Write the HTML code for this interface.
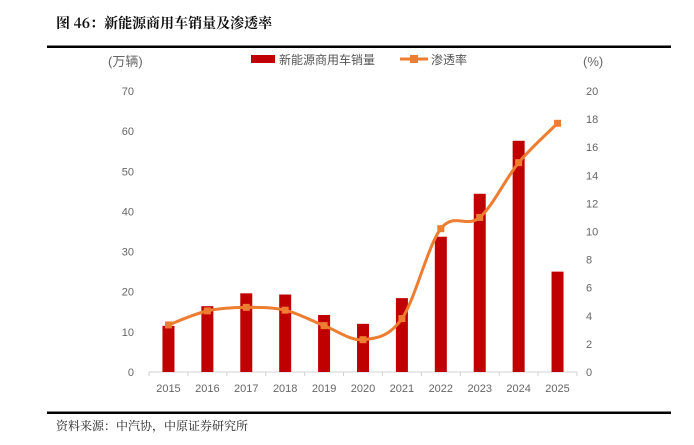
<!DOCTYPE html>
<html><head><meta charset="utf-8"><style>
body{margin:0;background:#fff;width:694px;height:440px;overflow:hidden;font-family:"Liberation Sans","Noto Sans CJK SC",sans-serif}
</style></head><body>
<svg width="694" height="440" xmlns="http://www.w3.org/2000/svg" font-family="Liberation Sans, Noto Sans CJK SC, sans-serif">
<text x="56" y="28" font-size="14" font-weight="bold" fill="#111" font-family="Noto Serif CJK SC, serif">图 46：新能源商用车销量及渗透率</text>
<rect x="47" y="45.5" width="624" height="2.5" fill="#000"/>
<rect x="47" y="411.5" width="624" height="2.5" fill="#000"/>
<text x="56" y="430" font-size="12" fill="#222" font-family="Noto Serif CJK SC, serif">资料来源：中汽协，中原证券研究所</text>
<text x="108" y="66" font-size="13" fill="#666">(万辆)</text>
<text x="583" y="66" font-size="13" fill="#666">(%)</text>
<g>
<rect x="251" y="55" width="24" height="8" fill="#c00000"/>
<text x="279" y="64" font-size="12" fill="#555">新能源商用车销量</text>
<line x1="400" y1="59" x2="428" y2="59" stroke="#ed7d31" stroke-width="3"/>
<rect x="410" y="55" width="8" height="8" fill="#ed7d31"/>
<text x="431" y="64" font-size="12" fill="#555">渗透率</text>
</g>
<g id="plot"></g>
</svg>
<script>
const categories=["2015","2016","2017","2018","2019","2020","2021","2022","2023","2024","2025"];
const salesValues=[11.5,16.4,19.6,19.3,14.2,12,18.4,33.7,44.4,57.6,25];
const rateValues=[3.35,4.35,4.6,4.4,3.3,2.3,3.8,10.2,11.0,14.9,17.7];
const leftTicks=[0,10,20,30,40,50,60,70];
const rightTicks=[0,2,4,6,8,10,12,14,16,18,20];
const NS="http://www.w3.org/2000/svg";
const g=document.getElementById('plot');
const x0=149,x1=577,yb=372,yt=91;
const step=(x1-x0)/categories.length;
const xc=i=>x0+step*(i+0.5);
const yL=v=>yb-(v/70)*(yb-yt);
const yR=v=>yb-(v/20)*(yb-yt);
function mk(t,a){const e=document.createElementNS(NS,t);for(const k in a)e.setAttribute(k,a[k]);g.appendChild(e);return e;}
leftTicks.forEach(v=>{const t=mk('text',{x:134,y:yL(v)+4,'font-size':11,fill:'#666','text-anchor':'end'});t.textContent=v;

});
rightTicks.forEach(v=>{const t=mk('text',{x:586,y:yR(v)+4,'font-size':11,fill:'#666'});t.textContent=v;

});
const ax=mk('line',{x1:x0,y1:yb,x2:x1,y2:yb,stroke:'#d0d0d0'});


for(let i=0;i<=categories.length;i++){const tk=mk('line',{x1:x0+step*i,y1:yb,x2:x0+step*i,y2:yb+4,stroke:'#d0d0d0'});

}
categories.forEach((c,i)=>{
const b=mk('rect',{x:xc(i)-6,y:yL(salesValues[i]),width:12,height:yb-yL(salesValues[i]),fill:'#c00000'});


const t=mk('text',{x:xc(i),y:yb+20,'font-size':11,fill:'#666','text-anchor':'middle'});t.textContent=c;


});
const pts=rateValues.map((v,i)=>[xc(i),yR(v)]);
let d='M'+pts[0][0]+','+pts[0][1];
for(let i=0;i<pts.length-1;i++){const p0=pts[i-1]||pts[i],p1=pts[i],p2=pts[i+1],p3=pts[i+2]||p2;const k=1/6;
d+=` C${p1[0]+(p2[0]-p0[0])*k},${p1[1]+(p2[1]-p0[1])*k} ${p2[0]-(p3[0]-p1[0])*k},${p2[1]-(p3[1]-p1[1])*k} ${p2[0]},${p2[1]}`;}
const ln=mk('path',{d:d,fill:'none',stroke:'#ed7d31','stroke-width':3});


pts.forEach((p,i)=>{const m=mk('rect',{x:p[0]-3.5,y:p[1]-3.5,width:7,height:7,fill:'#ed7d31'});

});
</script>
</body></html>
